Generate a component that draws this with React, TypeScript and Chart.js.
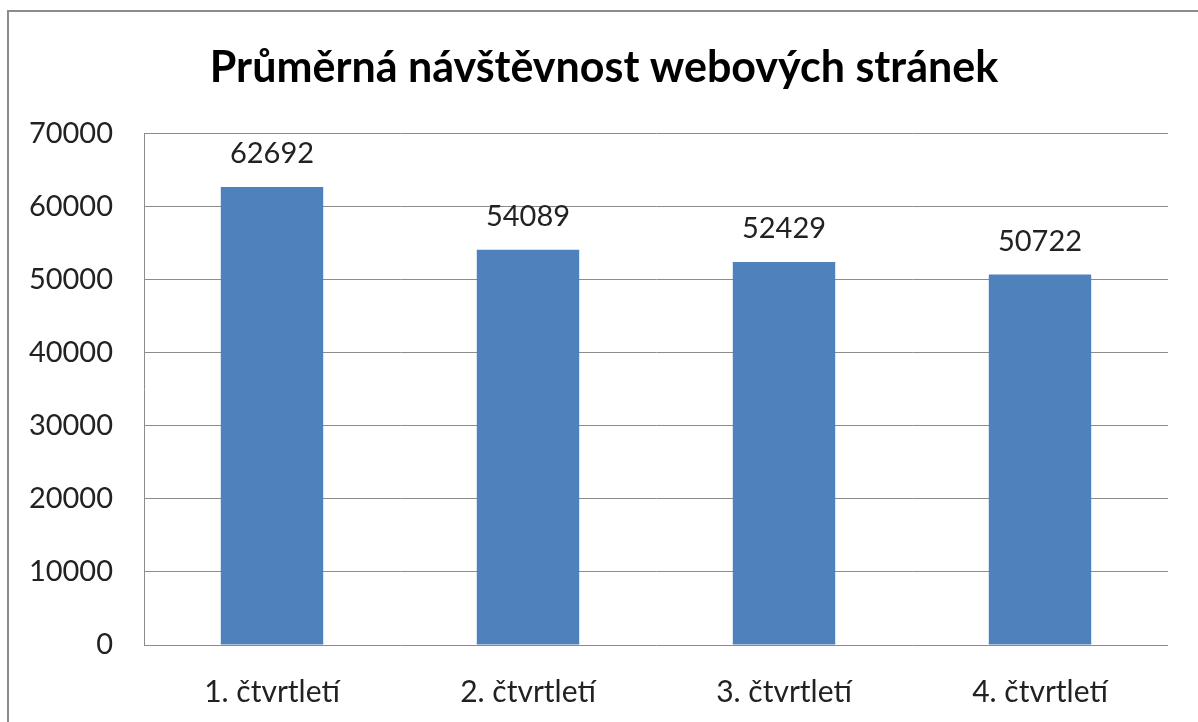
import React, { useEffect, useRef } from "react";
import { Chart, registerables } from "chart.js";

Chart.register(...registerables);

const categories = ["1. čtvrtletí", "2. čtvrtletí", "3. čtvrtletí", "4. čtvrtletí"];
const visits = [62692, 54089, 52429, 50722];
const yTicks = [0, 10000, 20000, 30000, 40000, 50000, 60000, 70000];
const titleText = "Průměrná návštěvnost webových stránek";

const FONT = "Lato, 'Noto Sans', sans-serif";

const framePlugin = {
  id: "frame",
  afterLayout(chart: any) {
    const t = chart.titleBlock;
    if (t) {
      t.left = 40;
      t.width = t.right - t.left;
    }
  },
  beforeDraw(chart: any) {
    const ctx = chart.ctx;
    ctx.save();
    ctx.fillStyle = "#ffffff";
    ctx.fillRect(0, 0, chart.width, chart.height);
    ctx.strokeStyle = "#8c8c8c";
    ctx.lineWidth = 2;
    ctx.strokeRect(8, 11, chart.width + 20, chart.height + 20);
    ctx.restore();
  },
};

const valueLabelPlugin = {
  id: "valueLabels",
  afterDatasetsDraw(chart: any) {
    const ctx = chart.ctx;
    const meta = chart.getDatasetMeta(0);
    const data = chart.data.datasets[0].data as number[];
    ctx.save();
    ctx.font = `29px ${FONT}`;
    ctx.fillStyle = "#222222";
    ctx.textAlign = "center";
    ctx.textBaseline = "middle";
    meta.data.forEach((bar: any, i: number) => {
      ctx.fillText(String(data[i]), bar.x, bar.y - 33);
    });
    ctx.restore();
  },
};

export default function App() {
  const ref = useRef<HTMLCanvasElement | null>(null);
  useEffect(() => {
    document.body.style.margin = "0";
    const chart = new Chart(ref.current as HTMLCanvasElement, {
      type: "bar",
      data: {
        labels: categories,
        datasets: [
          {
            data: visits,
            backgroundColor: "#4f81bd",
            borderWidth: 0,
            barPercentage: 0.4,
            categoryPercentage: 1,
          },
        ],
      },
      options: {
        responsive: false,
        animation: false,
        layout: { padding: { top: 10, right: 30, left: 0, bottom: 0 } },
        plugins: {
          legend: { display: false },
          tooltip: { enabled: false },
          title: {
            display: true,
            text: titleText,
            color: "#000000",
            font: { family: FONT, size: 43, weight: "bold", lineHeight: 1.2 },
            padding: { top: 32, bottom: 40 },
          },
        },
        scales: {
          x: {
            grid: { display: false },
            border: { display: false },
            ticks: {
              color: "#222222",
              font: { family: FONT, size: 30 },
              padding: 21,
            },
            afterFit(scale: any) {
              scale.height = 77;
            },
          },
          y: {
            min: 0,
            max: 70000,
            afterBuildTicks(scale: any) {
              scale.ticks = yTicks.map((v) => ({ value: v }));
            },
            grid: { color: "#8c8c8c", lineWidth: 1, drawTicks: false },
            border: { display: true, color: "#8c8c8c", width: 1 },
            ticks: {
              color: "#222222",
              font: { family: FONT, size: 29 },
              padding: 31,
              callback: (v: any) => String(v),
            },
            afterFit(scale: any) {
              scale.width = 144;
            },
          },
        },
      },
      plugins: [framePlugin, valueLabelPlugin],
    });
    return () => chart.destroy();
  }, []);
  return (
    <div style={{ position: "absolute", left: 0, top: 0, width: 1198, height: 722 }}>
      <canvas ref={ref} width={1198} height={722} />
    </div>
  );
}
